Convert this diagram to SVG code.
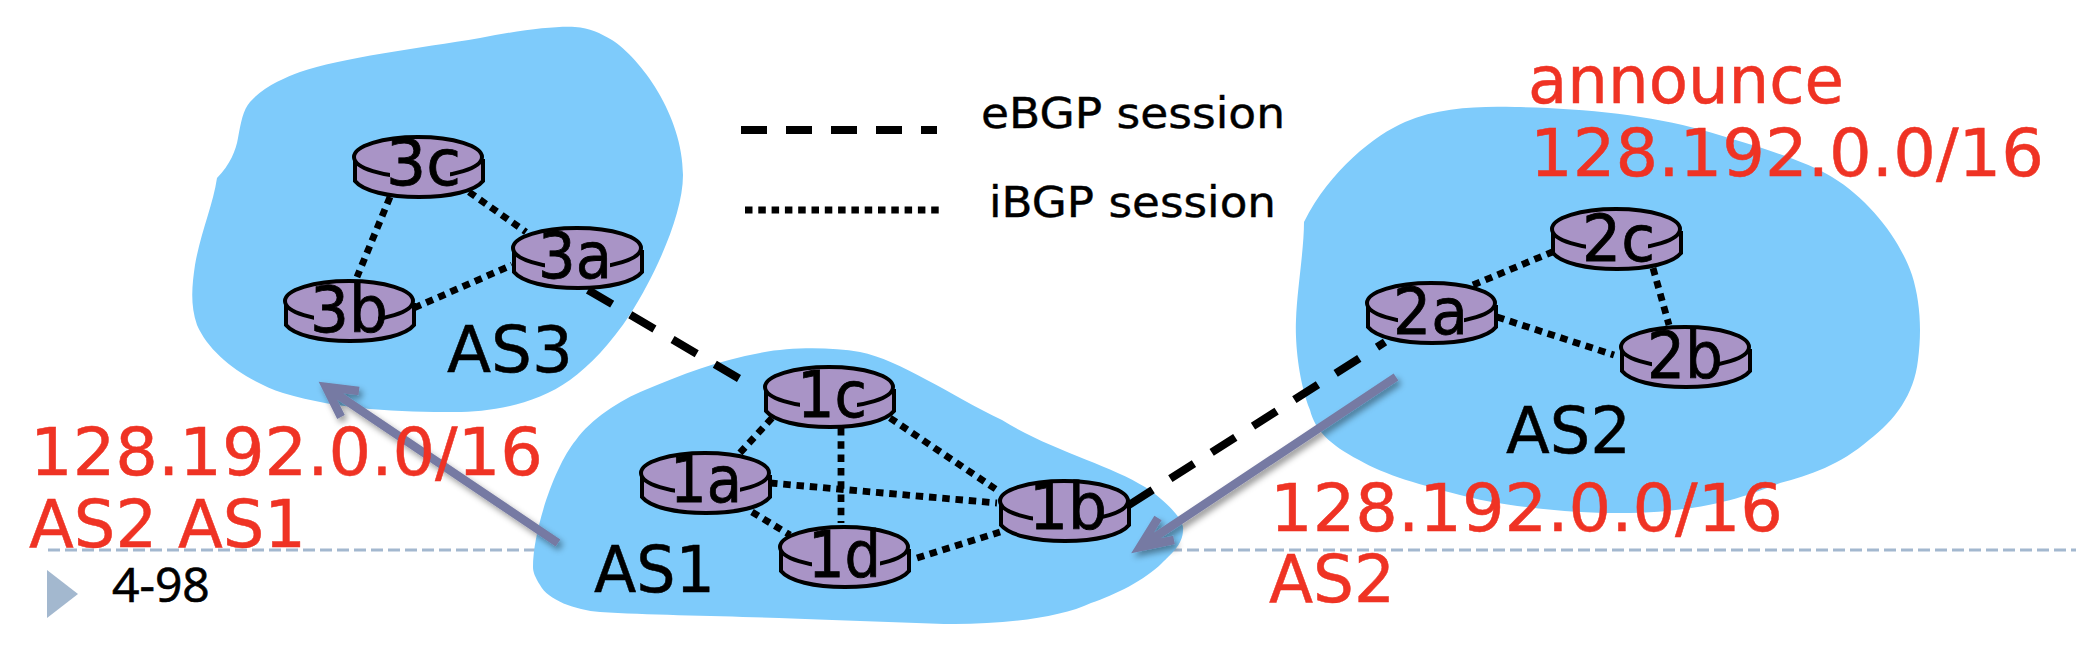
<svg xmlns="http://www.w3.org/2000/svg" xmlns:xlink="http://www.w3.org/1999/xlink" width="2076" height="648" viewBox="0 0 2076 648">
<style>
text{font-family:"DejaVu Sans","Liberation Sans",sans-serif}
.lab{font-size:64px;fill:#000;stroke:#000;stroke-width:.8}
.big{font-size:64px;fill:#000;stroke:#000;stroke-width:.5}
.red{font-size:65px;fill:#ef3324;stroke:#ef3324;stroke-width:.5}
.leg{font-size:43px;fill:#000;stroke:#000;stroke-width:.4}
.blob{fill:#7ecbfb}
.ibgp{stroke:#000;stroke-width:6.8;stroke-dasharray:7.5 5.8;fill:none}
.ebgp{stroke:#000;stroke-width:8;stroke-dasharray:28 21;fill:none}
.arrow{stroke:#767aa3;stroke-width:8.5;fill:none;filter:url(#sh)}
.rtop{fill:#a994c6;stroke:#000;stroke-width:4}
.rside{fill:#a994c6;stroke:#000;stroke-width:4}
.gap{fill:#a994c6}
</style>
<defs>
<filter id="sh" x="-20%" y="-20%" width="140%" height="140%"><feDropShadow dx="3" dy="4" stdDeviation="3" flood-color="#000" flood-opacity="0.4"/></filter>
<g id="router">
<path class="rside" d="M-63,4 V24 C-55,34 -30,40 1,40 C32,40 57,34 65,24 V4 Z"/>
<ellipse class="rtop" cx="0" cy="0" rx="64" ry="20"/>
</g>
</defs>
<rect width="2076" height="648" fill="#fff"/>
<g id="footer">
<line x1="48" y1="550" x2="2076" y2="550" stroke="#a3b8cf" stroke-width="2.8" stroke-dasharray="12 5"/>
<polygon points="47,570 78,594 47,618" fill="#a3b8cf"/>
<text x="112" y="602" style="font-family:'Open Sans',sans-serif;font-size:48px;stroke:#000;stroke-width:.7" fill="#000">4-98</text>
</g>
<g id="clouds">
<path id="cloud-as3" class="blob" d="M217,178 C230,165 236,150 238,138 C241,122 243,110 250,102 C265,85 285,78 300,72 C340,58 420,48 480,38 C520,30 555,26 575,27 C590,28 600,33 612,40 C640,58 683,115 683,175 C683,215 655,275 631,313 C610,345 590,365 570,380 C535,405 490,412 455,412 C400,412 340,410 283,393 C245,380 210,355 197,325 C190,305 192,285 195,265 C200,235 213,205 217,178 Z"/>
<path id="cloud-as2" class="blob" d="M1304,222 C1330,170 1375,135 1405,122 C1440,107 1480,106 1515,107 C1580,108 1650,115 1702,130 C1750,144 1805,160 1832,177 C1870,200 1900,240 1912,275 C1920,300 1922,330 1918,360 C1914,395 1895,420 1869,440 C1840,465 1810,475 1780,483 C1745,497 1700,513 1620,513 C1560,513 1500,505 1468,497 C1420,485 1385,475 1359,460 C1330,445 1315,430 1310,410 C1298,380 1295,340 1296,320 C1297,290 1304,250 1304,222 Z"/>
<path id="cloud-as1" class="blob" d="M533,567 C533,530 555,465 576,440 C590,420 620,400 645,390 C680,375 720,360 760,353 C790,347 830,347 860,352 C900,360 950,395 1002,420 C1050,450 1110,465 1145,487 C1165,500 1185,520 1183,530 C1183,545 1170,555 1162,563 C1145,580 1115,595 1091,603 C1060,618 1000,625 944,624 C890,622 830,620 779,618 C720,616 650,615 600,612 C575,610 548,600 540,585 C535,577 533,572 533,567 Z"/>
</g>
<g id="connectors">
<line class="ibgp" x1="390" y1="197" x2="357" y2="277"/>
<line class="ibgp" x1="469" y1="192" x2="526" y2="232"/>
<line class="ibgp" x1="414" y1="308" x2="512" y2="265"/>
<line class="ebgp" x1="588" y1="290" x2="745" y2="382"/>
<line class="ibgp" x1="772" y1="418" x2="738" y2="455"/>
<line class="ibgp" x1="770" y1="483" x2="997" y2="503"/>
<line class="ibgp" x1="752" y1="512" x2="790" y2="535"/>
<line class="ibgp" x1="841" y1="428" x2="841" y2="523"/>
<line class="ibgp" x1="890" y1="418" x2="997" y2="490"/>
<line class="ibgp" x1="917" y1="558" x2="1000" y2="532"/>
<line class="ebgp" x1="1129" y1="505" x2="1385" y2="342"/>
<line class="ibgp" x1="1473" y1="285" x2="1562" y2="248"/>
<line class="ibgp" x1="1497" y1="317" x2="1614" y2="355"/>
<line class="ibgp" x1="1653" y1="268" x2="1669" y2="325"/>
<line class="ebgp" x1="741" y1="130" x2="937" y2="130" style="stroke-dasharray:26 19"/>
<line class="ibgp" x1="745" y1="210" x2="942" y2="210"/>
</g>
<g id="arrows">
<path class="arrow" d="M558,543 L326,387 M359,391 L326,387 L341,417"/>
<path class="arrow" d="M1396,377 L1140,547 M1174,540 L1140,547 L1158,518"/>
</g>
<g id="node-3c"><use xlink:href="#router" href="#router" x="418" y="157"/><rect class="gap" x="390" y="165" width="60" height="16"/><text class="lab" x="386" y="185" textLength="75" lengthAdjust="spacingAndGlyphs">3c</text></g>
<g id="node-3a"><use xlink:href="#router" href="#router" x="577" y="248"/><rect class="gap" x="545" y="256" width="65" height="16"/><text class="lab" x="538" y="278" textLength="74" lengthAdjust="spacingAndGlyphs">3a</text></g>
<g id="node-3b"><use xlink:href="#router" href="#router" x="349" y="301"/><rect class="gap" x="314" y="309" width="64" height="16"/><text class="lab" x="310" y="332" textLength="78" lengthAdjust="spacingAndGlyphs">3b</text></g>
<g id="node-1c"><use xlink:href="#router" href="#router" x="829" y="387"/><rect class="gap" x="800" y="395" width="57" height="16"/><text class="lab" x="797" y="417" textLength="70" lengthAdjust="spacingAndGlyphs">1c</text></g>
<g id="node-1a"><use xlink:href="#router" href="#router" x="705" y="473"/><rect class="gap" x="675" y="481" width="65" height="16"/><text class="lab" x="670" y="502" textLength="72" lengthAdjust="spacingAndGlyphs">1a</text></g>
<g id="node-1b"><use xlink:href="#router" href="#router" x="1064" y="501"/><rect class="gap" x="1033" y="509" width="68" height="16"/><text class="lab" x="1029" y="529" textLength="78" lengthAdjust="spacingAndGlyphs">1b</text></g>
<g id="node-1d"><use xlink:href="#router" href="#router" x="844" y="547"/><rect class="gap" x="812" y="555" width="68" height="16"/><text class="lab" x="808" y="577" textLength="73" lengthAdjust="spacingAndGlyphs">1d</text></g>
<g id="node-2c"><use xlink:href="#router" href="#router" x="1616" y="229"/><rect class="gap" x="1586" y="237" width="62" height="16"/><text class="lab" x="1582" y="261" textLength="73" lengthAdjust="spacingAndGlyphs">2c</text></g>
<g id="node-2a"><use xlink:href="#router" href="#router" x="1431" y="303"/><rect class="gap" x="1398" y="311" width="66" height="16"/><text class="lab" x="1393" y="334" textLength="75" lengthAdjust="spacingAndGlyphs">2a</text></g>
<g id="node-2b"><use xlink:href="#router" href="#router" x="1685" y="347"/><rect class="gap" x="1652" y="355" width="66" height="16"/><text class="lab" x="1647" y="378" textLength="76" lengthAdjust="spacingAndGlyphs">2b</text></g>
<g id="labels">
<text class="big" x="447" y="372" textLength="126" lengthAdjust="spacingAndGlyphs">AS3</text>
<text class="big" x="594" y="592" textLength="121" lengthAdjust="spacingAndGlyphs">AS1</text>
<text class="big" x="1506" y="453" textLength="125" lengthAdjust="spacingAndGlyphs">AS2</text>
<text class="leg" x="981" y="128" textLength="304" lengthAdjust="spacingAndGlyphs">eBGP session</text>
<text class="leg" x="989" y="217" textLength="287" lengthAdjust="spacingAndGlyphs">iBGP session</text>
<text class="red" x="1528" y="103" textLength="316" lengthAdjust="spacingAndGlyphs">announce</text>
<text class="red" x="1530" y="176" textLength="514" lengthAdjust="spacingAndGlyphs">128.192.0.0/16</text>
<text class="red" x="30" y="475" textLength="513" lengthAdjust="spacingAndGlyphs">128.192.0.0/16</text>
<text class="red" x="29" y="547" textLength="277" lengthAdjust="spacingAndGlyphs">AS2 AS1</text>
<text class="red" x="1270" y="531" textLength="513" lengthAdjust="spacingAndGlyphs">128.192.0.0/16</text>
<text class="red" x="1269" y="602" textLength="126" lengthAdjust="spacingAndGlyphs">AS2</text>
</g>
</svg>
